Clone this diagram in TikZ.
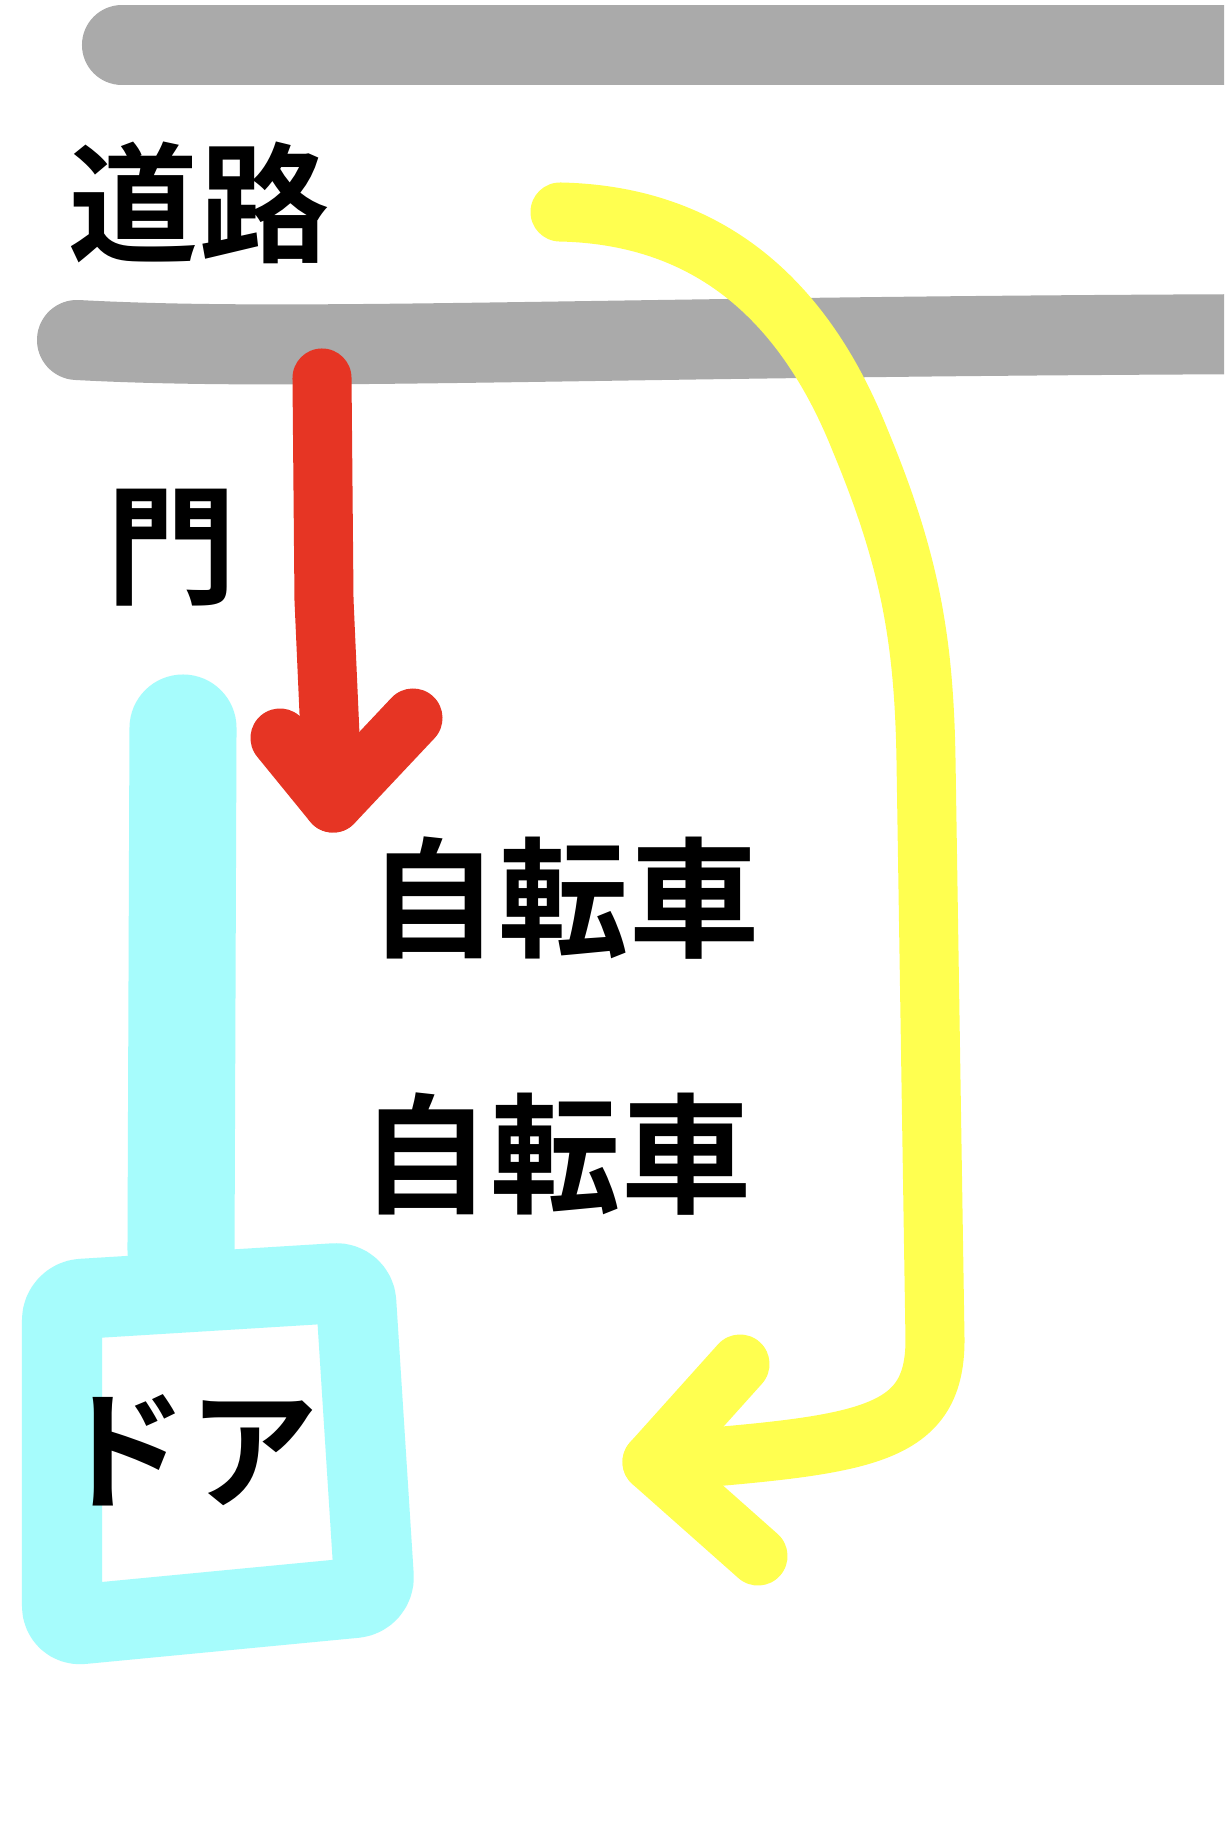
\documentclass[tikz,border=0pt]{standalone}
\usepackage{fontspec}
\newfontfamily\jpfont{Noto Sans CJK JP}[BoldFont={Noto Sans CJK JP Bold}]
\usetikzlibrary{positioning, arrows.meta}
\definecolor{roadgray}{HTML}{AAAAAA}
\definecolor{gatered}{HTML}{E63524}
\definecolor{doorcyan}{HTML}{A6FCFC}
\definecolor{bikeyellow}{HTML}{FFFF50}
\tikzset{
    >=Stealth,
    road/.style={line width=0.8cm, roadgray, line cap=round},
    gatepath/.style={line width=0.59cm, gatered, line cap=round, line join=round},
    bikepath/.style={line width=0.59cm, bikeyellow, line cap=round, line join=round},
    doorpath/.style={line width=0.8cm, doorcyan, line cap=round, line join=round}
}

\begin{document}
\begin{tikzpicture}[
    x=0.01cm, y=-0.01cm,
    every node/.style={inner sep=0pt, text=black, font=\jpfont\bfseries\fontsize{37pt}{40pt}\selectfont}
]
\clip (0,0) rectangle (1224,1822);
\fill[white] (0,0) rectangle (1224,1822);

% Road
\draw[road] (122,45) -- (1300,45);
\draw[road] (77,340) .. controls (300,352) and (600,336) .. (1300,334);

% Door
\draw[doorpath, line width=1.07cm] (183,728) -- (181,1250);
\draw[doorpath, rounded corners=0.2cm] (62,1300) -- (355,1282) -- (375,1596) -- (62,1626) -- cycle;

% Gate arrow
\coordinate (gtop) at (322,378);
\coordinate (gtip) at (333,803);
\draw[gatepath] (gtop) -- (324,600) -- (gtip);
\draw[gatepath] (280,738) -- (gtip) -- (413,718);

% Bicycle arrow
\coordinate (bstart) at (560,212);
\coordinate (btip) at (652,1462);
\draw[bikepath] (bstart) .. controls (700,215) and (800,290) .. (860,440)
    .. controls (910,560) and (924,640) .. (926,760)
    -- (935,1340) .. controls (935,1440) and (860,1445) .. (btip);
\draw[bikepath] (740,1364) -- (btip) -- (758,1556);

% Labels
\node (road) at (199,203) {道路};
\node (gate) at (172,548) {門};
\node (bike1) at (564,898) {自転車};
\node (bike2) [below=1.32cm of bike1, xshift=-0.08cm] {自転車};
\node (door) at (188,1450) {ドア};

\end{tikzpicture}
\end{document}
